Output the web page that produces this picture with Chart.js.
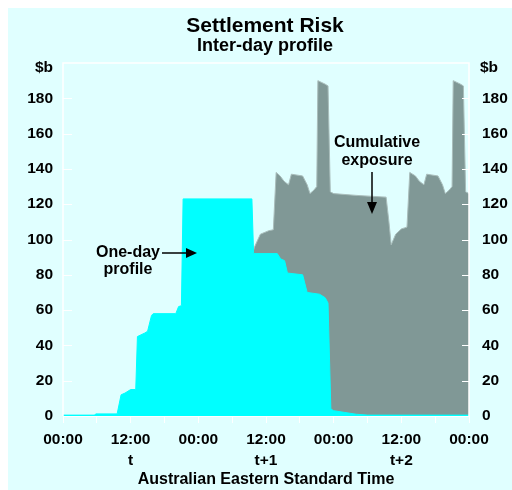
<!DOCTYPE html>
<html>
<head>
<meta charset="utf-8">
<script src="https://cdn.jsdelivr.net/npm/chart.js@4.4.0/dist/chart.umd.min.js"></script>
<style>
  html, body { margin: 0; padding: 0; background: #ffffff; }
  #wrap { width: 512px; height: 490px; }
</style>
</head>
<body>
<div id="wrap"><canvas id="chart" width="512" height="490"></canvas></div>
<script>
// hours from 00:00 on day t, values in $b
const oneDayHours  = [0, 5.6, 5.8, 9.6, 10.3, 11.0, 12.0, 12.9, 13.2, 14.5, 15.0, 15.7, 16.0, 20.0, 20.5, 21.0, 21.3, 33.5, 33.8, 38.0, 38.6, 39.3, 39.8, 42.5, 43.3, 45.5, 46.5, 47.0, 47.5, 48.0, 50.0, 52.0, 54.0, 72.0];
const oneDayValues = [0.5, 0.5, 1.2, 1.2, 12, 13, 15, 15, 45, 47, 48, 57, 58, 58, 62, 62.5, 123, 123, 92, 92, 89, 88, 81, 80, 70, 69, 67, 64, 4, 3, 2, 1, 0.5, 0.5];

const cumHours  = [33.6, 34.0, 35.0, 36.5, 37.3, 37.8, 38.5, 39.2, 40.0, 40.5, 42.5, 43.3, 43.8, 44.5, 45.0, 45.2, 46.5, 47.0, 47.4, 48.0, 52.0, 57.3, 57.8, 58.2, 59.0, 60.0, 61.0, 61.5, 62.5, 63.2, 64.0, 64.5, 66.5, 67.3, 67.8, 68.5, 69.0, 69.2, 70.5, 71.0, 71.4, 72.0];
const cumValues = [92, 96, 103, 105, 105.5, 138, 136, 133, 131, 137, 136, 131, 126, 128, 130, 190, 188, 187, 127, 126, 125, 124, 110, 97, 103, 106, 107, 138, 136, 133, 131, 137, 136, 131, 126, 128, 130, 190, 188, 187, 127, 126];

const yTicks = [0, 20, 40, 60, 80, 100, 120, 140, 160, 180];
const dayLabels = { 12: 't', 36: 't+1', 60: 't+2' };

const FONT = 'Liberation Sans, Arial, sans-serif';
const BG = '#e0ffff';

function toPoints(xs, ys) {
  return xs.map((x, i) => ({ x: x, y: ys[i] }));
}

const decor = {
  id: 'decor',
  beforeDraw(chart) {
    const ctx = chart.ctx;
    ctx.save();
    ctx.fillStyle = '#ffffff';
    ctx.fillRect(0, 0, chart.width, chart.height);
    ctx.fillStyle = BG;
    ctx.fillRect(8, 8, chart.width - 8, chart.height - 8);
    ctx.restore();
  },
  afterDraw(chart) {
    const ctx = chart.ctx;
    const a = chart.chartArea;
    const yl = chart.scales.y;
    ctx.save();
    // white frame
    ctx.strokeStyle = '#ffffff';
    ctx.lineWidth = 1.5;
    ctx.beginPath();
    ctx.moveTo(a.left, a.bottom);
    ctx.lineTo(a.left, a.top);
    ctx.lineTo(a.right, a.top);
    ctx.lineTo(a.right, a.bottom);
    ctx.stroke();
    // inward y ticks
    ctx.lineWidth = 1;
    yTicks.forEach(v => {
      const py = Math.round(yl.getPixelForValue(v)) + 0.5;
      ctx.beginPath();
      ctx.moveTo(a.left, py); ctx.lineTo(a.left + 9, py);
      ctx.moveTo(a.right - 7, py); ctx.lineTo(a.right, py);
      ctx.stroke();
    });

    ctx.fillStyle = '#000000';
    ctx.textBaseline = 'middle';
    ctx.textAlign = 'center';
    ctx.font = 'bold 21px ' + FONT;
    ctx.fillText('Settlement Risk', 265, 26);
    ctx.font = 'bold 18px ' + FONT;
    ctx.fillText('Inter-day profile', 265, 46);

    ctx.font = 'bold 15.5px ' + FONT;
    ctx.textAlign = 'right';
    ctx.fillText('$b', 53, 68);
    ctx.textAlign = 'left';
    ctx.fillText('$b', 480, 68);

    ctx.textAlign = 'center';
    ctx.font = 'bold 16px ' + FONT;
    ctx.fillText('Australian Eastern Standard Time', (a.left + a.right) / 2, 480);

    // annotations
    ctx.fillText('One-day', 128, 253);
    ctx.fillText('profile', 128, 270);
    ctx.fillText('Cumulative', 377, 143);
    ctx.fillText('exposure', 377, 161);

    ctx.strokeStyle = '#000000';
    ctx.lineWidth = 1.5;
    ctx.beginPath();
    ctx.moveTo(162, 253); ctx.lineTo(188, 253);
    ctx.stroke();
    ctx.beginPath();
    ctx.moveTo(197, 253); ctx.lineTo(186, 248); ctx.lineTo(186, 258); ctx.closePath();
    ctx.fill();

    ctx.beginPath();
    ctx.moveTo(372, 172); ctx.lineTo(372, 205);
    ctx.stroke();
    ctx.beginPath();
    ctx.moveTo(372, 214); ctx.lineTo(367, 202); ctx.lineTo(377, 202); ctx.closePath();
    ctx.fill();
    ctx.restore();
  }
};

const yTickOpts = {
  min: 0,
  max: 200,
  stepSize: 20
};

new Chart(document.getElementById('chart'), {
  type: 'line',
  data: {
    datasets: [
      {
        label: 'One-day profile',
        data: toPoints(oneDayHours, oneDayValues),
        borderColor: '#00ffff',
        backgroundColor: '#00ffff',
        borderWidth: 1,
        fill: 'origin',
        pointRadius: 0,
        tension: 0,
        order: 1
      },
      {
        label: 'Cumulative exposure',
        data: toPoints(cumHours, cumValues),
        borderColor: '#a9bdbb',
        backgroundColor: '#809896',
        borderWidth: 1,
        fill: 'origin',
        pointRadius: 0,
        tension: 0,
        order: 2
      }
    ]
  },
  options: {
    responsive: false,
    animation: false,
    layout: { padding: { top: 63, left: 0, right: 0, bottom: 0 } },
    plugins: {
      legend: { display: false },
      tooltip: { enabled: false }
    },
    scales: {
      x: {
        type: 'linear',
        min: 0,
        max: 72,
        afterFit(scale) { scale.height = 74; },
        afterBuildTicks(scale) {
          const t = [];
          for (let h = 0; h <= 72; h += 6) t.push({ value: h });
          scale.ticks = t;
        },
        grid: {
          drawOnChartArea: false,
          color: '#ffffff',
          tickLength: 7,
          lineWidth: 1
        },
        border: { display: true, color: '#ffffff' },
        ticks: {
          autoSkip: false,
          maxRotation: 0,
          padding: 7,
          color: '#000000',
          font: { family: FONT, size: 15.5, weight: 'bold', lineHeight: 1.3 },
          callback(v) {
            if (v % 12 !== 0) return '';
            const lbl = (v % 24 === 0) ? '00:00' : '12:00';
            return dayLabels[v] ? [lbl, dayLabels[v]] : lbl;
          }
        }
      },
      y: {
        position: 'left',
        min: yTickOpts.min,
        max: yTickOpts.max,
        afterFit(scale) { scale.width = 63; },
        afterBuildTicks(scale) { scale.ticks = yTicks.map(v => ({ value: v })); },
        grid: { display: false, drawTicks: false },
        border: { display: false },
        ticks: {
          padding: 10,
          color: '#000000',
          font: { family: FONT, size: 15.5, weight: 'bold' }
        }
      },
      y2: {
        position: 'right',
        min: yTickOpts.min,
        max: yTickOpts.max,
        afterFit(scale) { scale.width = 43; },
        afterBuildTicks(scale) { scale.ticks = yTicks.map(v => ({ value: v })); },
        grid: { display: false, drawTicks: false },
        border: { display: false },
        ticks: {
          padding: 13,
          color: '#000000',
          font: { family: FONT, size: 15.5, weight: 'bold' }
        }
      }
    }
  },
  plugins: [decor]
});
</script>
</body>
</html>
